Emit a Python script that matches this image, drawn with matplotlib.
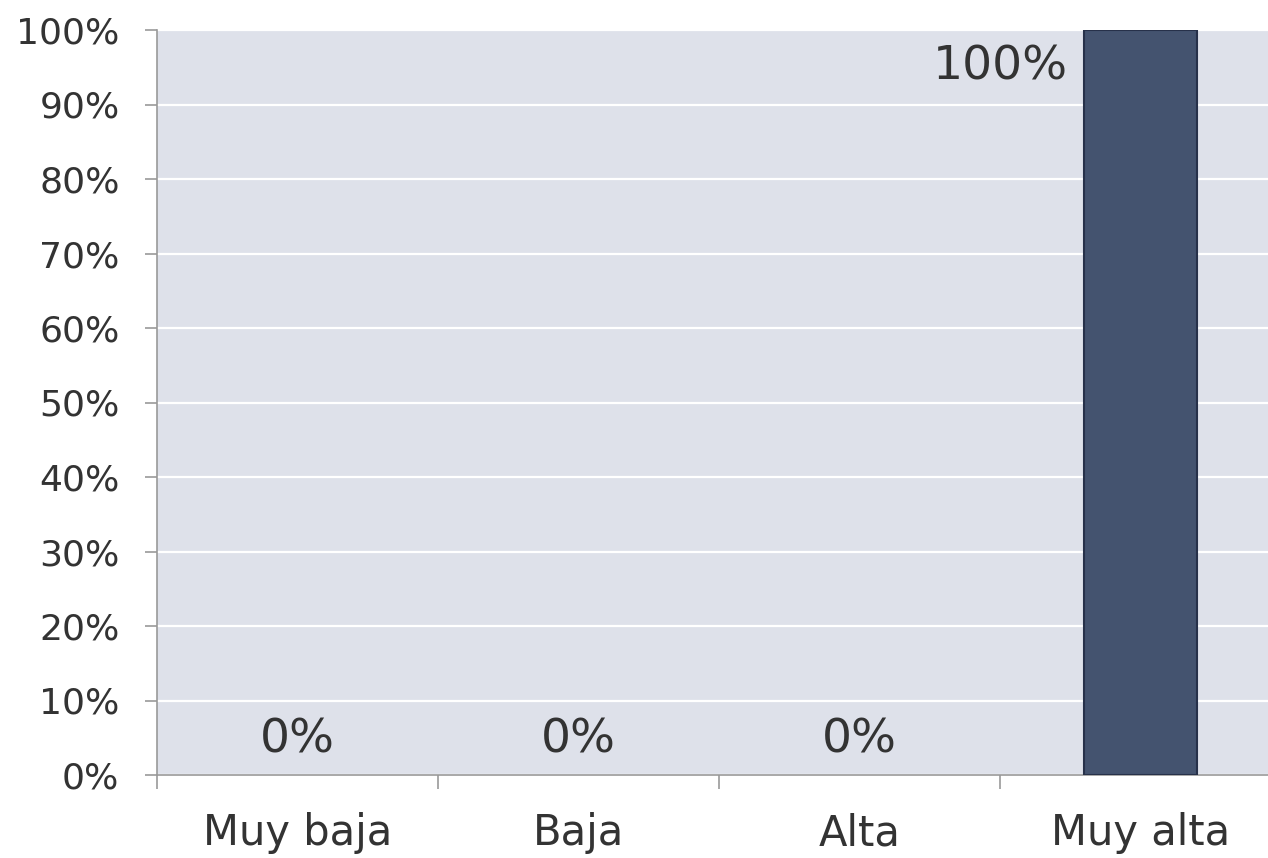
import numpy as np
import matplotlib.pyplot as plt
from matplotlib.ticker import FuncFormatter

# datos del gráfico
categorias = ['Muy baja', 'Baja', 'Alta', 'Muy alta']
valores = [0, 0, 0, 100]
etiquetas = ['0%', '0%', '0%', '100%']

color_fondo = '#DEE1EA'
color_barra = '#44536F'
color_texto = '#333333'

plt.rcParams['font.family'] = ['DejaVu Sans']

fig = plt.figure(figsize=(12.68, 8.58), dpi=100)
ax = fig.add_axes([157 / 1268, 1 - 775 / 858, 1124 / 1268, 745 / 858])
ax.set_facecolor(color_fondo)

x = np.arange(len(categorias))
bordes = ['#27314A' if v > 0 else 'none' for v in valores]
barras = ax.bar(x, valores, width=0.4, color=color_barra, edgecolor=bordes,
                linewidth=1.5, zorder=3)

ax.set_xlim(-0.5, len(categorias) - 0.5)
ax.set_ylim(0, 100)

# rejilla horizontal blanca
ax.set_yticks(np.arange(0, 101, 10))
ax.yaxis.set_major_formatter(FuncFormatter(lambda v, p: f'{v:.0f}%'))
ax.grid(True, axis='y', color='white', linewidth=1.6, zorder=1)
ax.set_axisbelow(True)

# etiquetas de categoría centradas, marcas en los límites
ax.set_xticks(x)
ax.set_xticklabels(categorias)
ax.set_xticks(np.arange(-0.5, len(categorias), 1.0), minor=True)
ax.tick_params(axis='x', which='major', length=0, pad=27, labelsize=30,
               labelcolor=color_texto)
ax.tick_params(axis='x', which='minor', length=10, width=1.2, color='#999999')
ax.tick_params(axis='y', length=9, width=1.2, color='#999999', labelsize=26,
               labelcolor=color_texto, pad=18)

for lado in ['top', 'right']:
    ax.spines[lado].set_visible(False)
for lado in ['left', 'bottom']:
    ax.spines[lado].set_color('#999999')
    ax.spines[lado].set_linewidth(1.2)

# etiquetas de datos
for xi, v, txt in zip(x, valores, etiquetas):
    if v == 0:
        ax.annotate(txt, (xi, 0), xytext=(0, 25), textcoords='offset points',
                    ha='center', va='center', fontsize=34, color=color_texto)
    else:
        ax.annotate(txt, (xi - 0.2, v), xytext=(-12, -27), textcoords='offset points',
                    ha='right', va='center', fontsize=34, color=color_texto)

fig.savefig('out.png', dpi=100)
